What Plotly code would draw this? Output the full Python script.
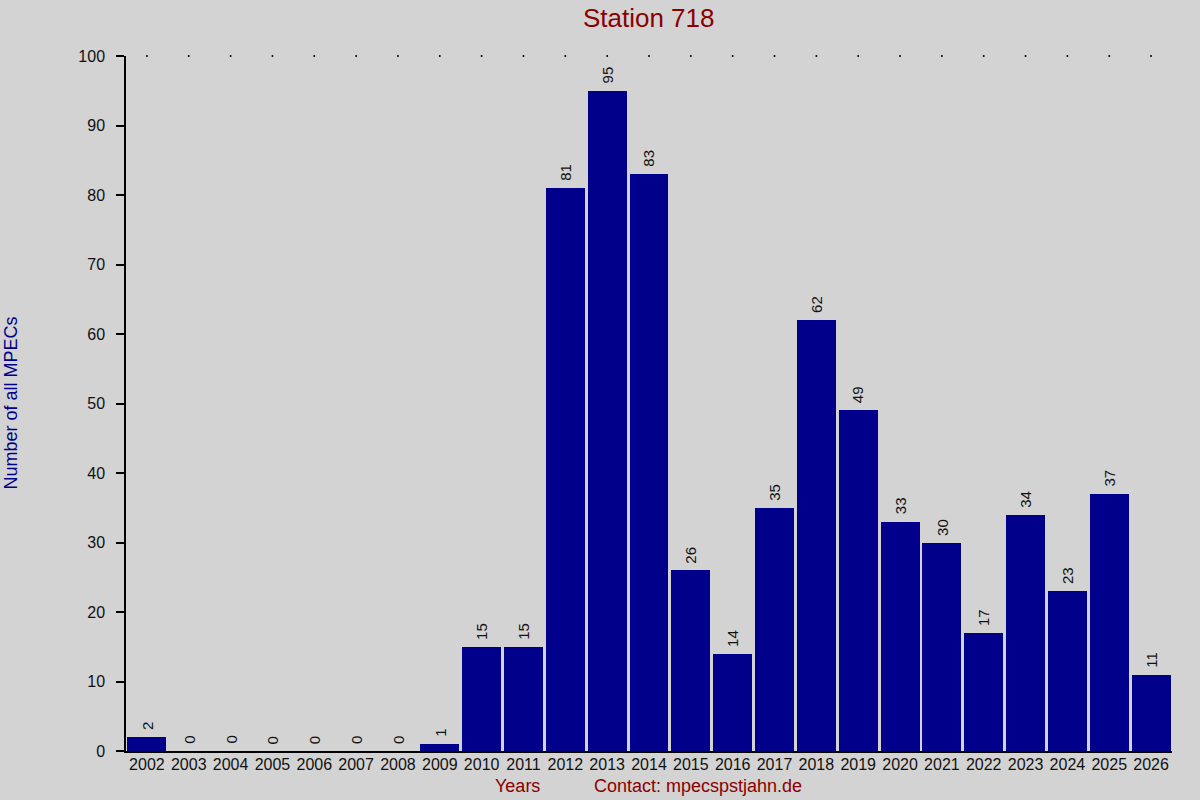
import plotly.graph_objects as go

# MPECs per year for station 718
years = [str(y) for y in range(2002, 2027)]
mpecs = [2, 0, 0, 0, 0, 0, 0, 1, 15, 15, 81, 95, 83, 26, 14, 35, 62, 49, 33, 30, 17, 34, 23, 37, 11]

y_max = 100
font = "Liberation Sans, Arial, sans-serif"

fig = go.Figure()

fig.add_trace(go.Bar(
    x=years,
    y=mpecs,
    width=0.93,
    marker=dict(color="#00008b", line=dict(width=0)),
    hoverinfo="x+y",
))

# dotted marks along the top edge of the plot
fig.add_trace(go.Scatter(
    x=years,
    y=[y_max] * len(years),
    mode="markers",
    marker=dict(color="black", size=2),
    hoverinfo="skip",
    cliponaxis=False,
))

# rotated value labels above each bar (category axis -> annotation x is the index)
value_labels = [
    dict(
        x=i, y=v, xref="x", yref="y",
        text=str(v),
        textangle=-90,
        xanchor="center", yanchor="bottom",
        yshift=5,
        showarrow=False,
        font=dict(family=font, size=15, color="#111111"),
    )
    for i, v in enumerate(mpecs)
]

fig.update_layout(
    width=1200,
    height=800,
    paper_bgcolor="#d3d3d3",
    plot_bgcolor="#d3d3d3",
    showlegend=False,
    bargap=0,
    margin=dict(l=126, r=28, t=56, b=49),
    font=dict(family=font, size=16, color="#111111"),
    title=dict(
        text="Station 718",
        x=0.5406, xanchor="center",
        y=0.978, yanchor="middle",
        font=dict(family=font, size=26, color="#8b0000"),
    ),
    xaxis=dict(
        type="category",
        range=[-0.5, len(years) - 0.5],
        showgrid=False,
        showline=True,
        linecolor="black",
        linewidth=1.5,
        ticks="",
        tickfont=dict(size=16, color="#111111"),
        ticklabelstandoff=-2,
        zeroline=False,
        fixedrange=True,
    ),
    yaxis=dict(
        range=[0, y_max],
        tickvals=list(range(0, 101, 10)),
        showgrid=False,
        showline=True,
        linecolor="black",
        linewidth=1.5,
        ticks="outside",
        ticklen=8,
        tickcolor="black",
        tickwidth=1.5,
        ticklabelstandoff=8,
        tickfont=dict(size=16, color="#111111"),
        zeroline=False,
        fixedrange=True,
    ),
    annotations=value_labels + [
        dict(
            text="Number of all MPECs",
            xref="paper", yref="paper",
            x=-128 / 1046, y=0.5,
            xanchor="left", yanchor="middle",
            textangle=-90,
            showarrow=False,
            font=dict(family=font, size=18, color="#00008b"),
        ),
        dict(
            text="Years",
            xref="paper", yref="paper",
            x=(517 - 126) / 1046, y=-35 / 695,
            xanchor="center", yanchor="middle",
            showarrow=False,
            font=dict(family=font, size=18, color="#8b0000"),
        ),
        dict(
            text="Contact: mpecspstjahn.de",
            xref="paper", yref="paper",
            x=(698 - 126) / 1046, y=-35 / 695,
            xanchor="center", yanchor="middle",
            showarrow=False,
            font=dict(family=font, size=18, color="#8b0000"),
        ),
    ],
)

fig.write_html(
    "out.html",
    config={"displayModeBar": False},
    post_script="document.body.style.margin='0';",
)
